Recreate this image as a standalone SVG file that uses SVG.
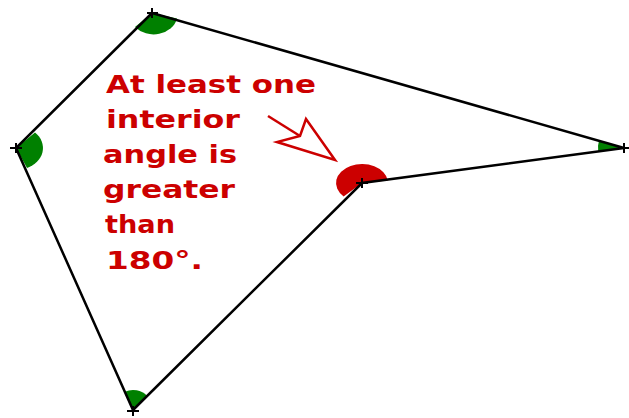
<svg xmlns="http://www.w3.org/2000/svg" width="629" height="418" viewBox="0 0 629 418">
<style>
.edge{fill:none;stroke:#000;stroke-width:2.5;stroke-linejoin:miter}
.tick{stroke:#000;stroke-width:2}
.ang{fill:#008000;stroke:none}
.reflex{fill:#cc0000;stroke:none}
.lbl{font-family:"DejaVu Sans","Liberation Sans",sans-serif;font-size:24px;font-weight:bold;fill:#cc0000}
.arrow{fill:none;stroke:#cc0000;stroke-width:2.5;stroke-linejoin:miter}
</style>
<rect width="629" height="418" fill="#fff"/>
<g id="angles">
<path class="ang" d="M152,13 L177,18.5 A24,20 0 0 1 135,27.1 Z"/>
<path class="ang" d="M16,148 L35,132.4 A27,22 0 0 1 27,168.1 Z"/>
<path class="ang" d="M133,410 L124.9,391.7 A20,20 0 0 1 147.2,395.9 Z"/>
<path class="ang" d="M624,148 L598.2,151.4 A26,26 0 0 1 599,140.8 Z"/>
<path class="reflex" d="M362,183 L343.6,196.4 A26,19 0 1 1 387.8,180.5 Z"/>
</g>
<g id="connectors">
<polygon class="edge" points="152,13 624,148 362,183 133,410 16,148"/>
</g>
<g id="vertex-top"><path class="tick" d="M147,13 H158 M152,8 V18"/></g>
<g id="vertex-left"><path class="tick" d="M10,148 H22 M16,143 V153"/></g>
<g id="vertex-bottom"><path class="tick" d="M127,411 H139 M133,406 V416"/></g>
<g id="vertex-reflex"><path class="tick" d="M356,183 H368 M362,178 V188"/></g>
<g id="vertex-right"><path class="tick" d="M619,148 H629 M624,143 V153"/></g>
<g id="label">
<text class="lbl" x="106" y="93" textLength="210" lengthAdjust="spacingAndGlyphs">At least one</text>
<text class="lbl" x="106" y="128" textLength="134" lengthAdjust="spacingAndGlyphs">interior</text>
<text class="lbl" x="103" y="163" textLength="134" lengthAdjust="spacingAndGlyphs">angle is</text>
<text class="lbl" x="103" y="198" textLength="132" lengthAdjust="spacingAndGlyphs">greater</text>
<text class="lbl" x="105" y="233" textLength="70" lengthAdjust="spacingAndGlyphs">than</text>
<text class="lbl" x="106" y="269" textLength="97" lengthAdjust="spacingAndGlyphs">180°.</text>
</g>
<g id="pointer">
<path class="arrow" d="M268,116 L300,136"/>
<polygon class="arrow" points="306,119 335,160 277,142 300,136"/>
</g>
</svg>
